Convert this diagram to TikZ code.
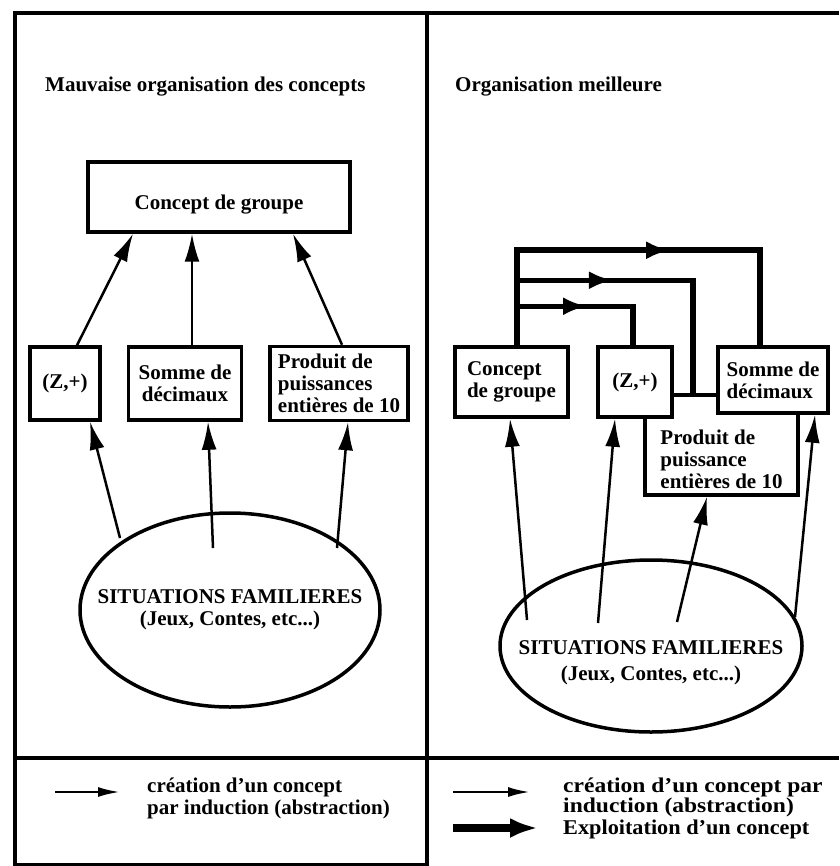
\documentclass[tikz,border=0pt]{standalone}
\usepackage{fontspec}
\setmainfont{Liberation Serif}
\usetikzlibrary{arrows.meta,calc,shapes.geometric,decorations.markings}

\newcommand{\lblfont}{\bfseries\fontsize{21}{22}\selectfont}
\newcommand{\sittext}[2]{\raisebox{#1}[0pt][0pt]{\makebox[0pt]{\begin{tabular}{@{}c@{}}SITUATIONS FAMILIERES\\[#2](Jeux, Contes, etc...)\end{tabular}}}}

\begin{document}
\begin{tikzpicture}[x=1pt, y=-1pt, font=\lblfont,
 frame/.style={line width=3.5pt},
 b/.style={draw, line width=3.5pt, fill=white, inner sep=3pt},
 sit/.style={draw, ellipse, line width=3.5pt, inner sep=0pt},
 ind/.style={-{Latex[length=28pt,width=15pt]}, line width=2.5pt},
 expl/.style={line width=5.5pt, postaction={decorate},
  decoration={markings, mark=at position #1 with {\arrow{Latex[length=24pt,width=18pt]}}}}]
\useasboundingbox (0,0) rectangle (839,866);
% cadre
\coordinate (tl) at (15,13);
\coordinate (tr) at (839,13);
\coordinate (ml) at (15,758);
\coordinate (mr) at (839,758);
\coordinate (bl) at (15,865);
\coordinate (bm) at (427,865);
\coordinate (dv) at (427,13);
\coordinate (db) at (427,866);
\draw[frame] (tr) -- (tl) -- (bl) -- (bm);
\draw[frame] (dv) -- (db);
\draw[frame] (ml) -- (mr);
% gauche
\node[anchor=west, inner sep=0pt] (titleL) at (45,87) {Mauvaise organisation des concepts};
\node[b, minimum width=262pt, minimum height=70pt, text height=29pt] (groupL) at (219,197) {Concept de groupe};
\node[b, minimum width=70pt, minimum height=73pt] (zL) at (65,383.5) {(Z,+)};
\node[b, minimum width=113pt, minimum height=73pt, align=center] (sommeL) at (185,383.5) {Somme de\\décimaux};
\node[b, minimum width=138pt, minimum height=74pt, align=left] (produitL) at (339,383.5) {Produit de\\puissances\\entières de 10};
\node[sit, minimum width=300pt, minimum height=194pt] (sitL) at (230,610) {\sittext{-5pt}{0pt}};
\draw[ind] ([xshift=12pt]zL.north) -- ([xshift=-86pt]groupL.south);
\draw[ind] ([xshift=7pt]sommeL.north) -- ([xshift=-27pt]groupL.south);
\draw[ind] ([xshift=3pt]produitL.north) -- ([xshift=74pt]groupL.south);
\draw[ind] ($(sitL.center)+(-110,-72)$) -- ([xshift=25pt]zL.south);
\draw[ind] ($(sitL.center)+(-17,-62)$) -- ([xshift=23pt]sommeL.south);
\draw[ind] ($(sitL.center)+(107,-62)$) -- ([xshift=9pt]produitL.south);
% droite
\node[anchor=west, inner sep=0pt] (titleR) at (455,87) {Organisation meilleure};
\node[b, minimum width=153pt, minimum height=100pt, align=left, text height=88pt] (produitR) at (721.5,445) {Produit de\\puissance\\entières de 10};
\node[b, minimum width=113pt, minimum height=70pt, align=left] (groupR) at (511.5,382) {Concept\\de groupe};
\node[b, minimum width=74pt, minimum height=70pt] (zR) at (635,382) {(Z,+)};
\node[b, minimum width=110pt, minimum height=66pt, align=left] (sommeR) at (773,380) {Somme de\\décimaux};
\node[sit, minimum width=302pt, minimum height=172pt] (sitR) at (651,646) {\sittext{-22pt}{4pt}};
\draw[expl=0.573] ([xshift=5.5pt]groupR.north) -- ++(0,-95) -| ([xshift=-13pt]sommeR.north);
\draw[expl=0.332] ($(groupR.north)+(5.5,-65)$) -| ([xshift=-28.5pt]produitR.north);
\draw[expl=0.452] ($(groupR.north)+(5.5,-39)$) -| ([xshift=-2pt]zR.north);
\draw[ind] ($(sitR.center)+(-124,-26)$) -- ([xshift=-1.5pt]groupR.south);
\draw[ind] ($(sitR.center)+(-53,-23)$) -- ([xshift=-20pt]zR.south);
\draw[ind] ($(sitR.center)+(26,-24)$) -- ([xshift=-14.5pt]produitR.south);
\draw[ind] ($(sitR.center)+(144,-29)$) -- ([xshift=42pt]sommeR.south);
% legende
\coordinate (la0) at (55,792);
\coordinate (la1) at (120,792);
\coordinate (lb0) at (453,792);
\coordinate (lb1) at (530,792);
\coordinate (lc0) at (453,828);
\coordinate (lc1) at (538,828);
\draw[-{Latex[length=22pt,width=10pt]}, line width=2.5pt] (la0) -- (la1);
\draw[-{Latex[length=22pt,width=10pt]}, line width=2.5pt] (lb0) -- (lb1);
\draw[-{Latex[length=28pt,width=20pt]}, line width=8pt] (lc0) -- (lc1);
\node[anchor=west, align=left, inner sep=0pt] (legL) at (147,798) {création d'un concept\\par induction (abstraction)};
\node[anchor=west, align=left, inner sep=0pt, font=\bfseries\fontsize{21}{20}\selectfont, xscale=1.12, transform shape] (legR) at (563,797) {création d'un concept par\\induction (abstraction)};
\node[anchor=west, inner sep=0pt, font=\bfseries\fontsize{21}{20}\selectfont, xscale=1.06, transform shape] (legX) at (563,829) {Exploitation d'un concept};
\end{tikzpicture}
\end{document}
